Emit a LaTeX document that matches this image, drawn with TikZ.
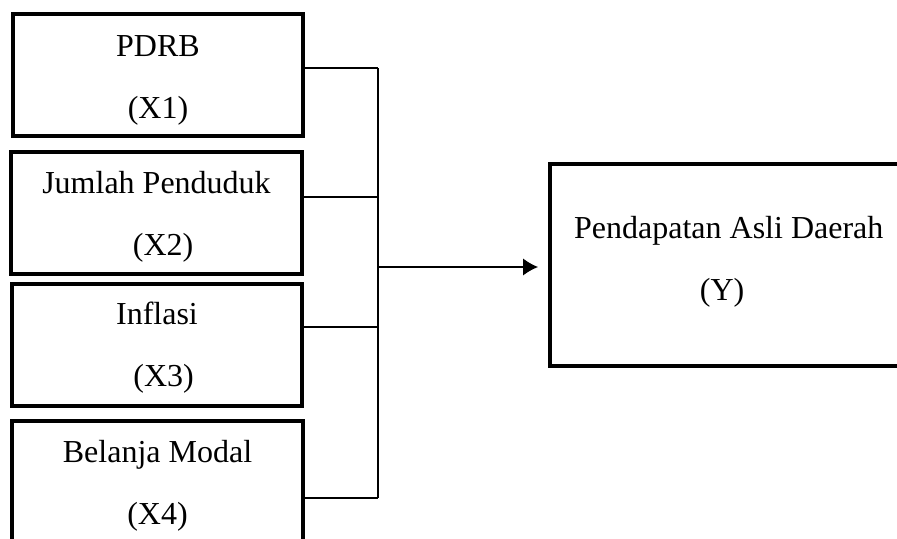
\documentclass[tikz,border=0pt]{standalone}
\usepackage{fontspec}
\setmainfont{Liberation Serif}
\usetikzlibrary{arrows.meta}

\begin{document}
\begin{tikzpicture}[
    x = 0.375pt, y = -0.375pt,
    %
    factorbox/.style = {draw,
      line width = 1.5pt,
      align = center,
      inner sep = 0pt,
      font = {\fontsize{12pt}{23.5pt}\selectfont},
      minimum width = 109pt,
      minimum height = 45.75pt},
    %
    link/.style = {line width = 0.5pt},
    flow/.style = {link, -{Latex[length = 5.6pt, width = 6.4pt]},
      shorten > = 3.9pt},
    ]

    \useasboundingbox (0, 0) rectangle (897, 539);

    \node at (158, 75)
    [factorbox, name = X1] {\rule{0pt}{12pt}PDRB\\(X1)};
    \node at (156.5, 212.5)
    [factorbox, name = X2] {\rule{0pt}{11.5pt}Jumlah Penduduk\\\hspace*{5pt}(X2)};
    \node at (157, 345)
    [factorbox, name = X3] {\rule{0pt}{10.5pt}Inflasi\\\hspace*{5pt}(X3)};
    \node at (157.5, 483)
    [factorbox, name = X4, minimum height = 46.5pt] {\rule{0pt}{10.5pt}Belanja Modal\\(X4)};

    \node at (728.75, 264.75)
    [factorbox, name = Y, minimum width = 133.7pt, minimum height = 75.6pt]
    {Pendapatan Asli Daerah\\(Y)\hspace*{5pt}\rule[-4.8pt]{0pt}{0pt}};

    \coordinate (J1) at (378, 68);
    \coordinate (J2) at (378, 197);
    \coordinate (J3) at (378, 327);
    \coordinate (J4) at (378, 498);
    \coordinate (JY) at (378, 267);

    \draw [link] (X1.east |- J1) -- (J1);
    \draw [link] (X2.east |- J2) -- (J2);
    \draw [link] (X3.east |- J3) -- (J3);
    \draw [link] (X4.east |- J4) -- (J4);

    \draw [link] (J1) -- (J4);

    \draw [flow] (JY) -- (JY -| Y.west);

  \end{tikzpicture}
\end{document}
